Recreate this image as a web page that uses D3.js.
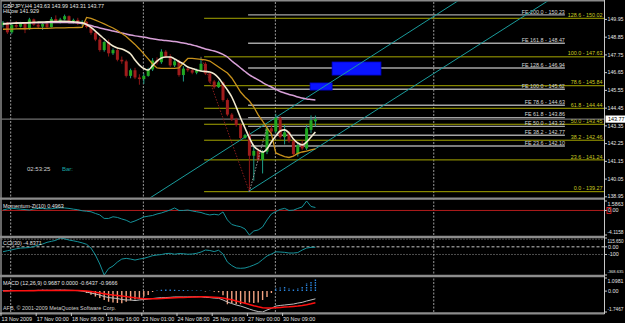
<!DOCTYPE html>
<html><head><meta charset="utf-8">
<script src="https://cdn.jsdelivr.net/npm/d3@7"></script>
<style>html,body{margin:0;padding:0;background:#000;}svg{display:block;}</style>
</head><body>
<svg id="c" width="625" height="323"></svg>
<script>
// ---------------- DATA ----------------
const symbolTitle = "GBPJPY,H4";
const open  = [149.60,149.75,149.15,149.60,149.50,149.72,149.35,149.95,149.62,149.50,149.68,149.48,149.98,149.85,149.95,150.15,149.82,149.92,149.70,149.80,149.48,149.12,148.70,148.05,148.55,147.85,148.05,147.45,147.35,146.45,146.80,146.35,146.25,146.45,146.85,147.40,147.30,147.95,147.65,147.10,147.35,146.50,146.90,146.80,146.65,146.80,147.20,146.60,146.10,145.75,146.05,144.95,144.05,143.75,143.40,142.60,142.80,141.50,141.80,141.25,141.75,143.20,143.00,143.85,142.65,142.95,142.40,141.60,142.15,141.95,143.10,143.63];
const high  = [149.85,149.80,149.70,149.85,149.80,149.78,150.05,150.00,149.80,149.75,149.78,150.10,150.20,150.05,150.25,150.20,150.00,150.05,149.90,149.85,149.55,149.25,148.85,148.60,148.70,148.15,148.15,147.65,147.45,146.90,146.95,146.55,146.60,146.95,147.55,147.60,148.10,148.05,147.80,147.45,147.45,147.05,147.00,146.90,146.90,147.63,147.30,146.65,146.20,146.15,146.10,145.05,144.15,143.85,143.50,142.85,143.00,142.05,141.95,141.85,143.30,143.40,144.10,143.95,143.40,143.05,142.50,142.30,142.45,143.40,144.00,143.99];
const low   = [149.45,149.05,149.05,149.40,149.45,149.10,149.30,149.55,149.40,149.30,149.40,149.45,149.75,149.70,149.90,149.75,149.70,149.60,149.55,149.40,149.00,148.60,147.95,147.95,147.65,147.75,147.35,147.20,146.35,146.30,146.25,145.90,145.95,146.40,146.75,147.15,147.20,147.55,147.00,147.00,146.40,146.10,146.70,146.55,146.55,146.70,146.50,146.00,145.65,145.70,144.85,143.95,143.65,143.30,142.50,142.55,139.27,139.95,141.15,140.40,141.60,142.85,142.90,142.55,142.20,142.30,141.50,141.45,141.85,141.85,142.90,143.31];
const close = [149.75,149.15,149.60,149.50,149.72,149.35,149.95,149.62,149.50,149.68,149.48,149.98,149.85,149.95,150.15,149.82,149.92,149.70,149.80,149.48,149.12,148.70,148.05,148.55,147.85,148.05,147.45,147.35,146.45,146.80,146.35,146.25,146.45,146.85,147.40,147.30,147.95,147.65,147.10,147.35,146.50,146.90,146.80,146.65,146.80,147.20,146.60,146.10,145.75,146.05,144.95,144.05,143.75,143.40,142.60,142.78,141.50,141.80,141.25,141.75,143.20,143.00,143.85,142.65,142.95,142.40,141.60,142.15,141.95,143.20,143.70,143.77];

const maFast = [149.67,149.69,149.70,149.72,149.73,149.74,149.75,149.77,149.78,149.79,149.80,149.82,149.82,149.83,149.83,149.82,149.80,149.78,149.74,149.64,149.45,149.23,148.98,148.74,148.49,148.30,148.18,148.12,147.99,147.81,147.43,147.12,146.91,146.81,147.09,147.37,147.56,147.62,147.62,147.50,147.34,147.19,147.00,146.91,146.81,146.75,146.72,146.69,146.57,146.32,145.95,145.58,145.14,144.52,143.84,143.22,142.60,142.10,141.86,141.73,141.92,142.35,142.72,143.03,143.10,142.91,142.54,142.29,142.17,142.35,142.66,142.97];
const maSlow = [149.70,149.70,149.71,149.72,149.73,149.73,149.74,149.74,149.75,149.75,149.75,149.76,149.76,149.76,149.76,149.75,149.74,149.73,149.70,149.64,149.57,149.49,149.42,149.36,149.29,149.23,149.17,149.11,149.05,148.98,148.93,148.89,148.86,148.80,148.75,148.71,148.67,148.64,148.61,148.58,148.54,148.49,148.43,148.37,148.30,148.21,148.12,148.06,147.99,147.90,147.78,147.62,147.37,147.16,146.94,146.72,146.51,146.35,146.20,146.04,145.89,145.76,145.61,145.48,145.39,145.30,145.23,145.14,145.08,145.02,144.99,144.96];
const hiLow  = [149.34,149.35,149.35,149.36,149.37,149.37,149.38,149.39,149.39,149.40,149.40,149.41,149.42,149.42,149.43,149.44,149.44,149.45,149.46,150.07,150.01,149.91,149.79,149.67,149.54,149.42,149.26,149.08,148.89,148.64,148.40,148.12,147.81,147.50,147.19,146.94,146.91,146.91,146.91,146.91,146.94,147.25,147.53,147.53,147.50,147.47,147.44,147.37,147.19,147.00,146.81,146.63,146.32,145.89,145.45,145.14,144.89,144.52,144.03,143.65,143.22,142.85,141.67,141.55,141.45,141.39,141.48,141.64,141.73,141.79,141.86,141.929];

const momentum = [0.08,0.25,0.37,0.29,0.22,0.15,0.08,0.25,0.34,0.32,0.27,0.29,0.39,0.45,0.42,0.34,0.22,0.12,-0.05,-0.13,-0.22,-0.50,-0.75,-1.34,-1.34,-1.06,-1.17,-1.43,-1.64,-2.01,-1.76,-1.43,-1.09,-0.96,-0.84,-0.59,-0.42,-0.17,0.08,0.42,0.00,0.00,0.07,-0.08,-0.22,-0.34,-0.59,-0.75,-0.64,-0.75,-0.25,-1.59,-2.35,-2.57,-2.73,-3.10,-4.1158,-3.44,-3.27,-2.77,-1.59,-0.59,-0.17,0.17,0.35,0.00,0.05,0.34,0.59,1.5863,0.67,0.4963];
const cci = [-64,-51,-39,-26,-16,-13,-9,4,24,37,59,72,85,115.65,105,89,79,67,52,33,-16,-107,-225,-368.635,-284,-251,-199,-160,-151,-160,-173,-160,-151,-134,-116,-107,-101,-88,-85,-97,-88,-90,-97,-94,-85,-68,-42,-48,-62,-45,-94,-199,-245,-277,-281,-277,-260,-238,-212,-166,-120,-94,-65,-68,-72,-81,-81,-75,-42,-16,-7,-4.8371];
const macdHist = [0.08,0.10,0.12,0.10,0.06,0.05,0.08,0.10,0.12,0.14,0.12,0.10,0.12,0.14,0.12,0.10,0.06,0.03,-0.02,-0.15,-0.30,-0.45,-0.58,-0.75,-0.89,-0.95,-1.00,-1.02,-0.89,-0.78,-0.70,-0.60,-0.45,-0.33,-0.08,0.05,0.12,0.15,0.15,0.12,0.10,0.10,0.08,0.06,0.05,0.05,-0.03,0.04,-0.05,-0.10,-0.35,-1.10,-1.00,-1.10,-1.10,-1.05,-0.95,-1.00,-0.95,-0.75,-0.50,-0.16,0.26,0.30,0.34,0.26,0.18,0.26,0.34,0.68,0.76,0.9687];
const macdMain = [0.03,0.04,0.04,0.05,0.05,0.05,0.06,0.06,0.06,0.07,0.07,0.07,0.08,0.08,0.08,0.07,0.06,0.04,0.01,-0.08,-0.16,-0.24,-0.33,-0.45,-0.54,-0.58,-0.62,-0.70,-0.74,-0.74,-0.79,-0.74,-0.70,-0.66,-0.62,-0.58,-0.55,-0.54,-0.52,-0.49,-0.49,-0.49,-0.49,-0.48,-0.47,-0.47,-0.52,-0.54,-0.58,-0.60,-0.74,-0.91,-1.04,-1.16,-1.25,-1.37,-1.50,-1.62,-1.71,-1.7467,-1.58,-1.44,-1.25,-1.20,-1.16,-1.12,-1.08,-1.00,-0.94,-0.83,-0.74,-0.6437];
const macdSignal = [0.02,0.02,0.03,0.03,0.03,0.04,0.04,0.04,0.05,0.05,0.05,0.05,0.06,0.06,0.06,0.06,0.06,0.05,0.04,0.01,-0.04,-0.10,-0.16,-0.22,-0.28,-0.33,-0.37,-0.41,-0.46,-0.51,-0.56,-0.60,-0.63,-0.64,-0.64,-0.63,-0.62,-0.60,-0.58,-0.56,-0.54,-0.53,-0.52,-0.50,-0.49,-0.48,-0.48,-0.49,-0.51,-0.53,-0.58,-0.65,-0.73,-0.82,-0.92,-1.02,-1.12,-1.22,-1.31,-1.39,-1.42,-1.42,-1.39,-1.36,-1.33,-1.31,-1.28,-1.25,-1.20,-1.14,-1.06,-0.9666];

const timeLabels = ["13 Nov 2009","17 Nov 00:00","18 Nov 08:00","19 Nov 16:00","23 Nov 01:00","24 Nov 08:00","25 Nov 16:00","27 Nov 00:00","30 Nov 09:00"];
const timeLabelBars = [0,8,16,24,32,40,48,56,64];
const separatorBars = [1.75,31.9,61.9,97.9];

const priceTicks = [149.95,148.85,147.75,146.65,145.55,144.45,143.35,142.25,141.15,140.05,138.95];
const momTicks = [1.5863,0,-4.1158];
const momTickLabels = ["1.5863","0.00","-4.1158"];
const cciTicks = [115.65,0,-100,-368.635];
const cciTickLabels = ["115.650","0.00","-100","-368.635"];
const macdTicks = [1.0981,0,-1.7467];
const macdTickLabels = ["1.0981","0.00","-1.7467"];

const fibLevels = ["0.0","23.6","38.2","50.0","61.8","78.6","100.0","128.6"];
const fibPrices = [139.27,141.24,142.46,143.45,144.44,145.84,147.63,150.02];
const fibStartBar = 45.7;
const feLevels = ["23.6","38.2","50.0","61.8","78.6","100.0","128.6","161.8","200.0"];
const fePrices = [142.10,142.77,143.32,143.86,144.63,145.62,146.94,148.47,150.23];
const feBars = [55.7,127.7];

const channelA = [[33.4,138.88],[94.8,149.60]];
const channelB = [[55.7,139.27],[123.2,150.99]];
const zigzagDown = [[45,147.63],[56,139.27]];
const zigzagUp = [[56,139.27],[60,143.30]];
const boxes = [[74.8,85.9,147.31,146.50],[69.8,74.8,146.01,145.57]];

// ---------------- DRAW ----------------
const svg = d3.select("#c");
const FONT = "'Liberation Sans', Arial, sans-serif";
const FS = 5.4;
const TXT = "#e4e4e4";
const N = close.length;
const AX = 604.5;

svg.append("rect").attr("width",625).attr("height",323).attr("fill","#000");

const x = d3.scaleLinear().domain([0,71]).range([3,315.4]);
const yP = d3.scaleLinear().domain([138.94,151.03]).range([197,2]);
const yM = d3.scaleLinear().domain([-4.1158,1.5863]).range([235,201]);
const yC = d3.scaleLinear().domain([-368.635,115.65]).range([275,238]);
const yD = d3.scaleLinear().domain([-1.7467,1.0981]).range([312,278]);

const defs = svg.append("defs");
function clip(id,y0,y1){defs.append("clipPath").attr("id",id).append("rect").attr("x",1.5).attr("y",y0).attr("width",AX-1.5).attr("height",y1-y0);}
clip("cMain",1.5,197.5); clip("cMom",200,236); clip("cCci",238,275); clip("cMacd",277.5,312.5);

// frame
svg.append("line").attr("x1",1).attr("x2",AX).attr("y1",0.8).attr("y2",0.8).attr("stroke","#8a8a8a").attr("stroke-width",1.5);
svg.append("line").attr("x1",1).attr("x2",1).attr("y1",0).attr("y2",314).attr("stroke","#8a8a8a").attr("stroke-width",1.5);

// period separators (all panels)
svg.append("g").selectAll("line").data(separatorBars).join("line")
  .attr("x1",d=>x(d)).attr("x2",d=>x(d)).attr("y1",2).attr("y2",313)
  .attr("stroke","#9a9a9a").attr("stroke-width",1).attr("stroke-dasharray","2,1.5");

const gm = svg.append("g").attr("clip-path","url(#cMain)");

// Fibonacci retracement
const fibG = gm.append("g");
fibG.selectAll("line").data(fibPrices).join("line")
  .attr("x1",x(fibStartBar)).attr("x2",AX).attr("y1",d=>yP(d)).attr("y2",d=>yP(d))
  .attr("stroke","#a6a600").attr("stroke-width",1);
fibG.selectAll("text").data(fibPrices).join("text")
  .attr("x",602.5).attr("y",d=>yP(d)-1.4).attr("text-anchor","end")
  .attr("font-family",FONT).attr("font-size",FS).attr("fill","#cccc20")
  .text((d,i)=>fibLevels[i]+" - "+d.toFixed(2));

// Fibonacci expansion
const feG = gm.append("g");
feG.selectAll("line").data(fePrices).join("line")
  .attr("x1",x(feBars[0])).attr("x2",x(feBars[1])).attr("y1",d=>yP(d)).attr("y2",d=>yP(d))
  .attr("stroke","#a4a4a4").attr("stroke-width",1.4);
feG.selectAll("text").data(fePrices).join("text")
  .attr("x",x(feBars[1])).attr("y",d=>yP(d)-1.4).attr("text-anchor","end")
  .attr("font-family",FONT).attr("font-size",FS).attr("fill","#d8d8d8")
  .text((d,i)=>"FE "+feLevels[i]+" - "+d.toFixed(2));

// boxes
gm.append("g").selectAll("rect").data(boxes).join("rect")
  .attr("x",d=>x(d[0])).attr("width",d=>x(d[1])-x(d[0]))
  .attr("y",d=>yP(d[2])).attr("height",d=>yP(d[3])-yP(d[2]))
  .attr("fill","#0a14ff").attr("stroke","#0000c8").attr("stroke-width",0.8);

// channel lines (rays)
function ray(p){const s=(p[1][1]-p[0][1])/(p[1][0]-p[0][0]);const xe=200;return [p[0],[xe,p[0][1]+s*(xe-p[0][0])]];}
[channelA,channelB].forEach(c=>{
  const r=ray(c);
  gm.append("line").attr("x1",x(r[0][0])).attr("y1",yP(r[0][1])).attr("x2",x(r[1][0])).attr("y2",yP(r[1][1]))
    .attr("stroke","#1a9c9c").attr("stroke-width",1);
});

// bid line
gm.append("line").attr("x1",1.5).attr("x2",AX).attr("y1",yP(close[N-1])).attr("y2",yP(close[N-1]))
  .attr("stroke","#8c8c8c").attr("stroke-width",1);

// candles
const bw = (x(1)-x(0))*0.68;
const up = i=>close[i]>=open[i];
gm.append("g").selectAll("line").data(d3.range(N)).join("line")
  .attr("x1",i=>x(i)).attr("x2",i=>x(i)).attr("y1",i=>yP(high[i])).attr("y2",i=>yP(low[i]))
  .attr("stroke",i=>up(i)?"#1e9c86":"#8c1616").attr("stroke-width",1);
gm.append("g").selectAll("rect").data(d3.range(N)).join("rect")
  .attr("x",i=>x(i)-bw/2).attr("width",bw)
  .attr("y",i=>yP(Math.max(open[i],close[i])))
  .attr("height",i=>Math.max(1,Math.abs(yP(open[i])-yP(close[i]))))
  .attr("fill",i=>up(i)?"#22a822":"#a01c1c");

// zigzag dotted
const zl = d3.line().x(d=>x(d[0])).y(d=>yP(d[1]));
gm.append("path").attr("d",zl(zigzagDown)).attr("fill","none").attr("stroke","#8a1c1c").attr("stroke-width",1).attr("stroke-dasharray","1.5,1.5");
gm.append("path").attr("d",zl(zigzagUp)).attr("fill","none").attr("stroke","#9a9a9a").attr("stroke-width",1).attr("stroke-dasharray","1.5,1.5");

// indicator lines on price
const pl = d3.line().x((d,i)=>x(i)).y(d=>yP(d)).curve(d3.curveMonotoneX);
gm.append("path").attr("d",pl(maSlow)).attr("fill","none").attr("stroke","#d8a0d8").attr("stroke-width",1.5);
gm.append("path").attr("d",d3.line().x((d,i)=>x(i)).y(d=>yP(d))(hiLow)).attr("fill","none").attr("stroke","#c8921c").attr("stroke-width",1.3);
gm.append("path").attr("d",pl(maFast)).attr("fill","none").attr("stroke","#f2ead0").attr("stroke-width",1.6);

// texts main
svg.append("text").attr("x",3).attr("y",7.6).attr("font-family",FONT).attr("font-size",FS).attr("fill",TXT)
  .text(symbolTitle+"  "+[open[N-1],high[N-1],low[N-1],close[N-1]].map(v=>v.toFixed(2)).join(" "));
svg.append("text").attr("x",3).attr("y",13.2).attr("font-family",FONT).attr("font-size",FS).attr("fill",TXT)
  .text("HiLow  "+hiLow[N-1].toFixed(3));
svg.append("text").attr("x",27).attr("y",171.2).attr("font-family",FONT).attr("font-size",FS+0.6).attr("fill","#d0d0d0").text("02:53:25");
svg.append("text").attr("x",62).attr("y",171.2).attr("font-family",FONT).attr("font-size",FS+0.6).attr("fill","#1aa6a6").text("Bar:");

// ---- Momentum panel
const gmo = svg.append("g").attr("clip-path","url(#cMom)");
gmo.append("line").attr("x1",1.5).attr("x2",AX).attr("y1",yM(0)).attr("y2",yM(0)).attr("stroke","#b01c1c").attr("stroke-width",1);
gmo.append("path").attr("d",d3.line().x((d,i)=>x(i)).y(d=>yM(d))(momentum)).attr("fill","none").attr("stroke","#15929a").attr("stroke-width",1);
svg.append("text").attr("x",3).attr("y",207.5).attr("font-family",FONT).attr("font-size",FS).attr("fill",TXT)
  .text("Momentum-Zi(10) "+momentum[N-1].toFixed(4));

// ---- CCI panel
const gc = svg.append("g").attr("clip-path","url(#cCci)");
gc.append("line").attr("x1",1.5).attr("x2",AX).attr("y1",yC(100)).attr("y2",yC(100)).attr("stroke","#9a9a9a").attr("stroke-dasharray","1,2");
gc.append("line").attr("x1",1.5).attr("x2",AX).attr("y1",yC(0)).attr("y2",yC(0)).attr("stroke","#c8c8c8").attr("stroke-dasharray","3,2");
gc.append("line").attr("x1",1.5).attr("x2",AX).attr("y1",yC(-100)).attr("y2",yC(-100)).attr("stroke","#9a9a9a").attr("stroke-dasharray","1,2");
gc.append("path").attr("d",d3.line().x((d,i)=>x(i)).y(d=>yC(d))(cci)).attr("fill","none").attr("stroke","#15929a").attr("stroke-width",1);
svg.append("text").attr("x",3).attr("y",245).attr("font-family",FONT).attr("font-size",FS).attr("fill",TXT)
  .text("CCI(30) "+cci[N-1].toFixed(4));

// ---- MACD panel
const gd = svg.append("g").attr("clip-path","url(#cMacd)");
gd.selectAll("line.h").data(d3.range(N)).join("line").attr("class","h")
  .attr("x1",i=>x(i)).attr("x2",i=>x(i)).attr("y1",yD(0)).attr("y2",i=>yD(macdHist[i]))
  .attr("stroke",i=>macdHist[i]>=0?"#2a86e0":"#f4a482").attr("stroke-width",1.4)
  .attr("stroke-dasharray",i=>macdHist[i]>=0?"1.5,1":null);
gd.append("path").attr("d",d3.line().x((d,i)=>x(i)).y(d=>yD(d))(macdMain)).attr("fill","none").attr("stroke","#bdbdbd").attr("stroke-width",1);
gd.append("path").attr("d",d3.line().x((d,i)=>x(i)).y(d=>yD(d))(macdSignal)).attr("fill","none").attr("stroke","#ff1010").attr("stroke-width",1.5);
svg.append("text").attr("x",3).attr("y",284.5).attr("font-family",FONT).attr("font-size",FS).attr("fill",TXT)
  .text("MACD (12,26,9) "+macdHist[N-1].toFixed(4)+" 0.0000 "+macdMain[N-1].toFixed(4)+" "+macdSignal[N-1].toFixed(4));
svg.append("text").attr("x",3).attr("y",310).attr("font-family",FONT).attr("font-size",FS).attr("fill","#d0d0d0")
  .text("AFB, © 2001-2009 MetaQuotes Software Corp.");

// panel separators
[198.6,237,276,313.4].forEach(yy=>{
  svg.append("line").attr("x1",0).attr("x2",AX).attr("y1",yy).attr("y2",yy).attr("stroke","#8c8c8c").attr("stroke-width",2.4);
});

// right axis
svg.append("line").attr("x1",AX).attr("x2",AX).attr("y1",0).attr("y2",314).attr("stroke","#c8c8c8").attr("stroke-width",1);
function axisLabels(vals,labels,scale,top,bot){
  const g=svg.append("g");
  vals.forEach((v,i)=>{
    const yy=Math.max(top+3.5,Math.min(bot-3,scale(v)));
    g.append("line").attr("x1",AX).attr("x2",AX+2.5).attr("y1",scale(v)).attr("y2",scale(v)).attr("stroke","#c8c8c8");
    const t=g.append("text").attr("x",AX+3.5).attr("y",yy).attr("dy","0.35em").attr("font-family",FONT).attr("font-size",FS).attr("fill",TXT).text(labels[i]);
    const w=t.node().getComputedTextLength();
    const avail=623.5-(AX+3);
    if(w>avail){t.attr("x",AX+3).attr("font-size",(FS*avail/w).toFixed(2));}
  });
  return g;
}
axisLabels(priceTicks,priceTicks.map(v=>v.toFixed(2)),yP,2,199);
axisLabels(momTicks,momTickLabels,yM,201,235);
axisLabels(cciTicks,cciTickLabels,yC,238,275);
axisLabels(macdTicks,macdTickLabels,yD,278,312);
// red box on momentum zero label
svg.append("rect").attr("x",AX+2.5).attr("y",yM(0)-3).attr("width",4).attr("height",6).attr("fill","none").attr("stroke","#ff2020").attr("stroke-width",0.8);
// bid price box
const by=yP(close[N-1]);
svg.append("rect").attr("x",AX+1).attr("y",by-3.6).attr("width",20).attr("height",7.2).attr("fill","#ffffff");
svg.append("text").attr("x",AX+3.5).attr("y",by).attr("dy","0.35em").attr("font-family",FONT).attr("font-size",FS).attr("fill","#000").text(close[N-1].toFixed(2));

// time axis
const tg=svg.append("g");
timeLabelBars.forEach((b,i)=>{
  tg.append("line").attr("x1",x(b)-2).attr("x2",x(b)-2).attr("y1",313).attr("y2",316).attr("stroke","#c8c8c8");
  tg.append("text").attr("x",x(b)-1.5).attr("y",321).attr("font-family",FONT).attr("font-size",FS).attr("fill",TXT).text(timeLabels[i]);
});
</script>
</body></html>
